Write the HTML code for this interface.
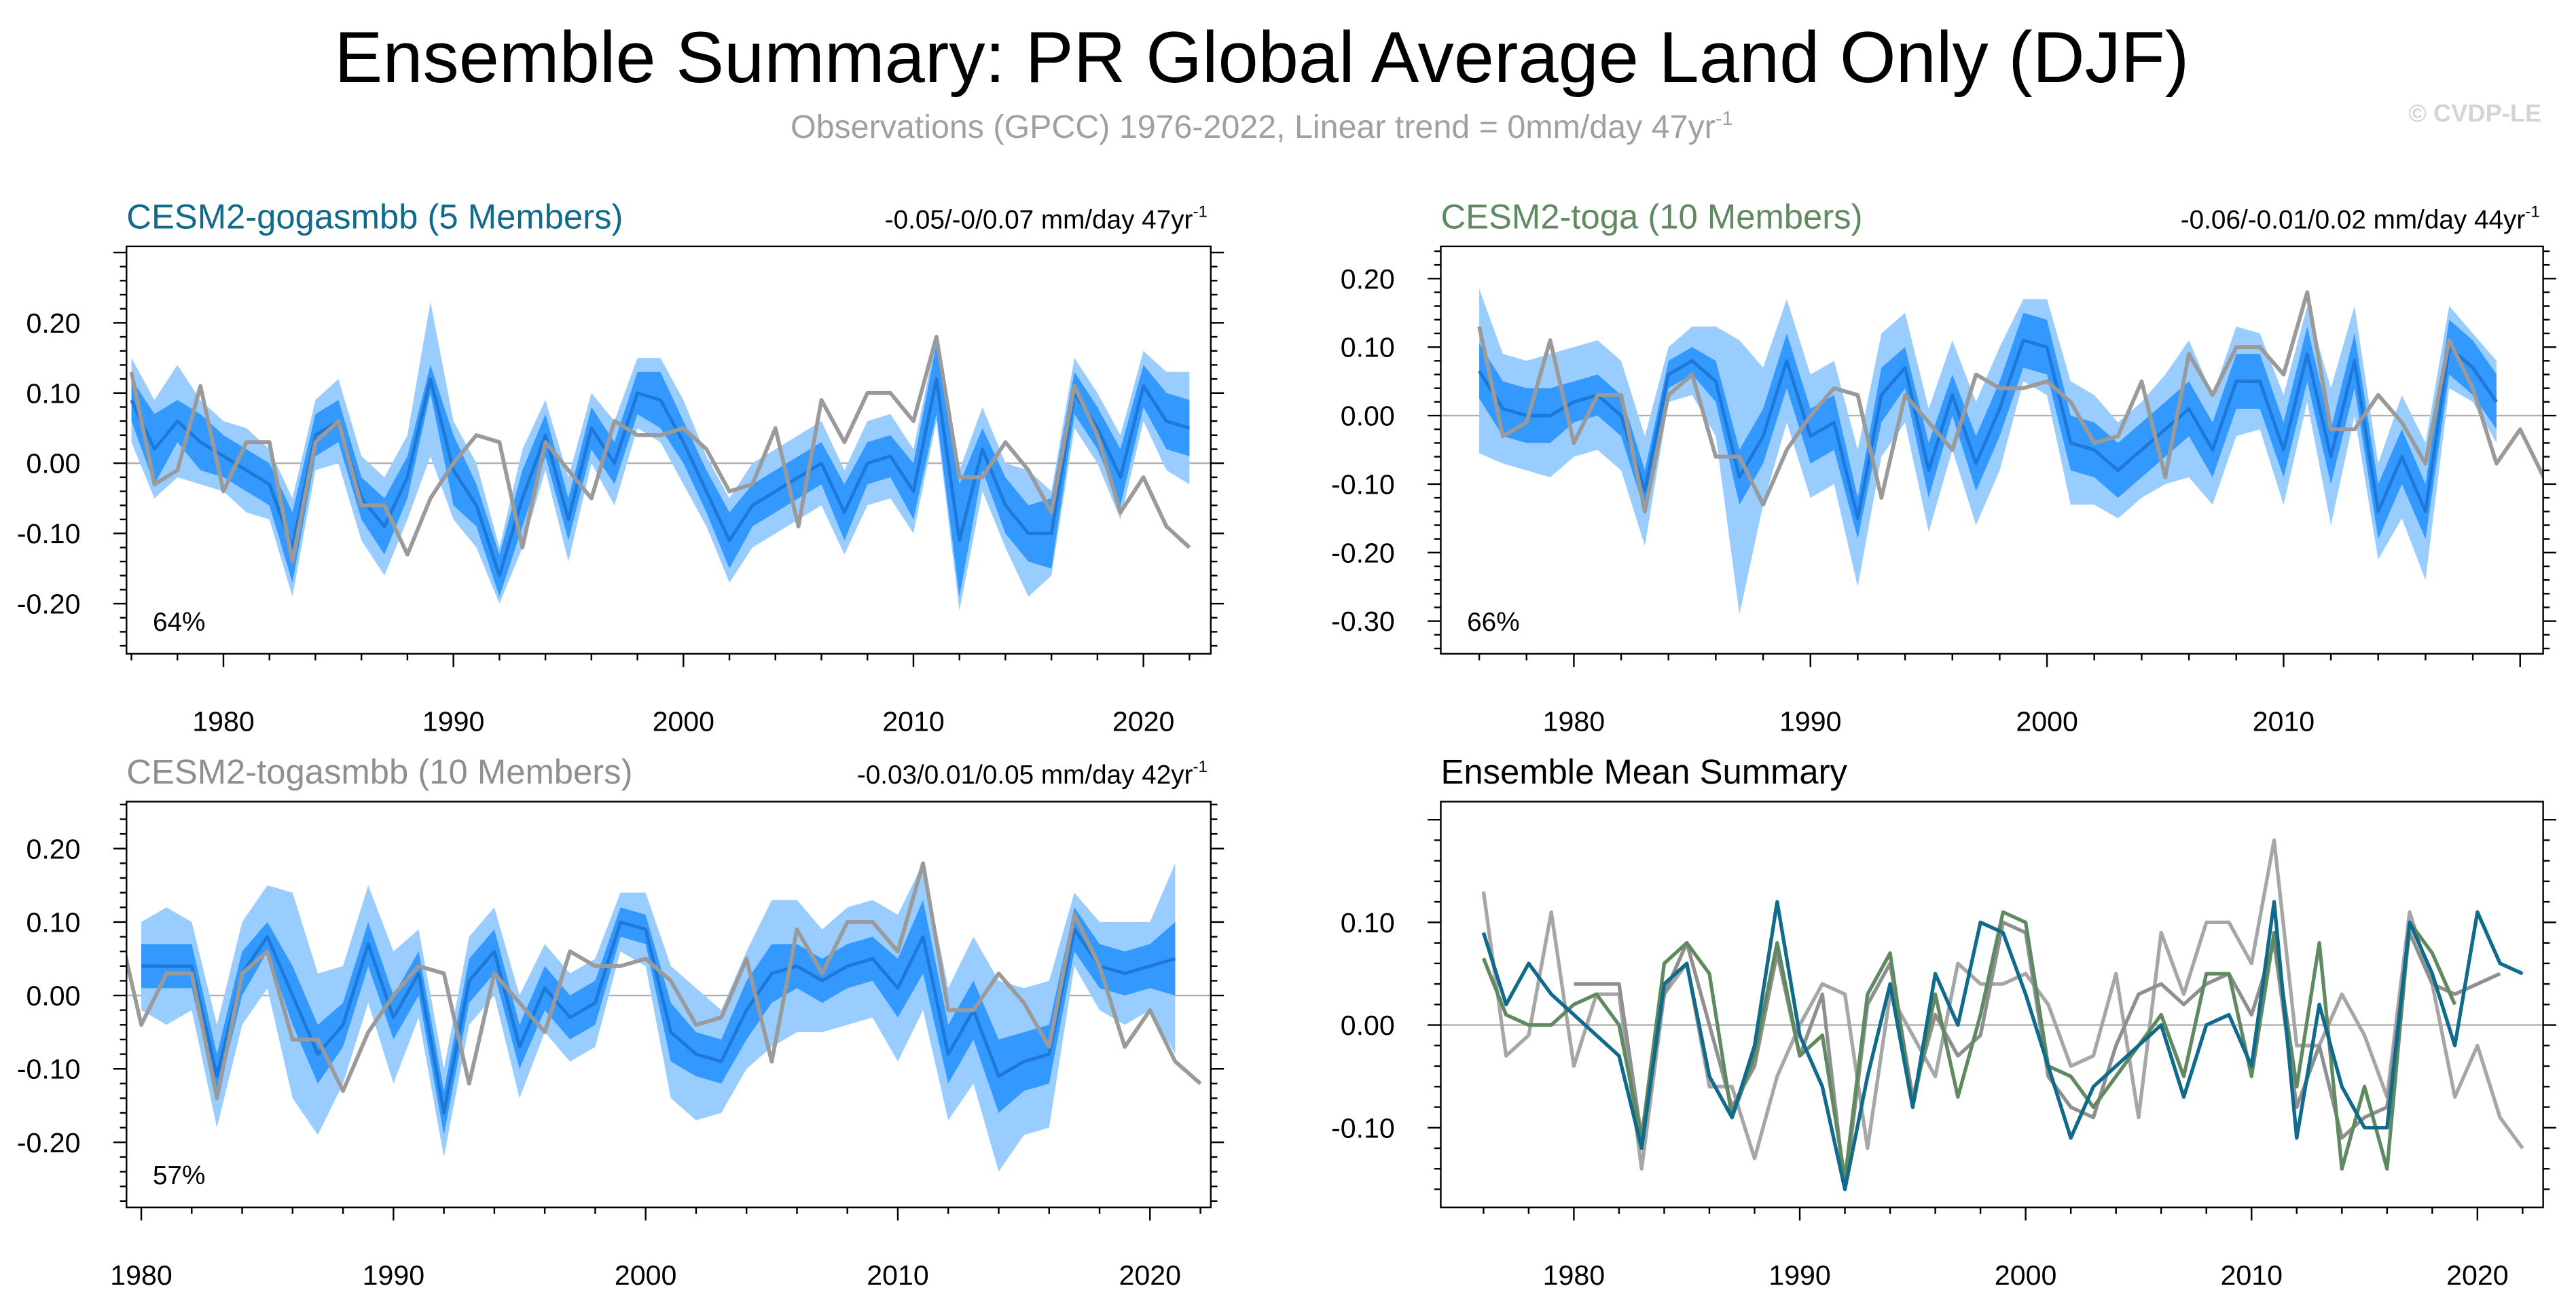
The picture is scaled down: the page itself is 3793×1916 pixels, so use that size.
<!DOCTYPE html>
<html><head><meta charset="utf-8"><style>
html,body{margin:0;padding:0;background:#fff}
svg{display:block;font-family:"Liberation Sans",sans-serif}
</style></head><body>
<svg id="chart" width="3793" height="1916" viewBox="0 0 1568 792" preserveAspectRatio="none" xmlns="http://www.w3.org/2000/svg">
<rect width="1568" height="792" fill="#fff"/>
<text x="768" y="50" text-anchor="middle" font-size="44">Ensemble Summary: PR Global Average Land Only (DJF)</text>
<text x="768" y="84" text-anchor="middle" font-size="20" fill="#a0a0a0">Observations (GPCC) 1976-2022, Linear trend = 0mm/day 47yr<tspan dy="-8" font-size="12">-1</tspan></text>
<text x="1547" y="74" text-anchor="end" font-size="15" font-weight="bold" fill="#d4d4d4">© CVDP-LE</text>
<g id="plots"></g>
</svg>
<script>
const obsYears0 = 1976;
const obsVals = [0.13,-0.03,-0.01,0.11,-0.04,0.03,0.03,-0.14,0.03,0.06,-0.06,-0.06,-0.13,-0.05,0.00,0.04,0.03,-0.12,0.03,-0.01,-0.05,0.06,0.04,0.04,0.05,0.02,-0.04,-0.03,0.05,-0.09,0.09,0.03,0.10,0.10,0.06,0.18,-0.02,-0.02,0.03,-0.01,-0.07,0.11,0.04,-0.07,-0.02,-0.09,-0.12];
const gogaStart = 1976;
const gogaMean = [0.09,0.02,0.06,0.03,0.01,-0.01,-0.03,-0.12,0.04,0.06,-0.05,-0.09,-0.02,0.12,-0.01,-0.06,-0.16,-0.05,0.04,-0.08,0.05,0.00,0.10,0.09,0.03,-0.04,-0.11,-0.06,-0.04,-0.02,0.00,-0.07,0.00,0.01,-0.04,0.12,-0.11,0.02,-0.06,-0.10,-0.10,0.10,0.05,-0.02,0.11,0.06,0.05];
const gogaInner = [0.03,0.05,0.03,0.04,0.03,0.03,0.03,0.05,0.03,0.03,0.03,0.04,0.03,0.02,0.05,0.03,0.03,0.04,0.03,0.03,0.03,0.03,0.03,0.04,0.03,0.03,0.04,0.03,0.03,0.03,0.03,0.04,0.03,0.03,0.04,0.05,0.08,0.03,0.04,0.04,0.05,0.03,0.03,0.04,0.03,0.04,0.04];
const gogaOuter = [0.06,0.07,0.08,0.06,0.05,0.06,0.05,0.07,0.05,0.06,0.06,0.07,0.06,0.11,0.07,0.06,0.04,0.07,0.05,0.06,0.05,0.06,0.05,0.06,0.06,0.05,0.06,0.06,0.06,0.06,0.06,0.06,0.06,0.06,0.06,0.06,0.10,0.06,0.06,0.09,0.06,0.05,0.05,0.06,0.05,0.07,0.08];
const togaStart = 1976;
const togaMean = [0.065,0.01,0.00,0.00,0.02,0.03,0.00,-0.11,0.06,0.08,0.05,-0.09,-0.03,0.08,-0.03,-0.01,-0.15,0.03,0.07,-0.08,0.03,-0.07,0.01,0.11,0.10,-0.04,-0.05,-0.08,-0.05,-0.02,0.01,-0.05,0.05,0.05,-0.05,0.09,-0.06,0.08,-0.14,-0.06,-0.14,0.10,0.07,0.02];
const togaInner = [0.04,0.04,0.04,0.04,0.03,0.03,0.03,0.03,0.02,0.02,0.03,0.04,0.04,0.04,0.04,0.04,0.03,0.04,0.03,0.04,0.03,0.04,0.04,0.04,0.04,0.04,0.04,0.04,0.04,0.04,0.04,0.04,0.04,0.04,0.04,0.04,0.04,0.04,0.04,0.04,0.04,0.04,0.04,0.04];
const togaOuter = [0.12,0.08,0.08,0.09,0.08,0.08,0.08,0.08,0.04,0.05,0.08,0.20,0.10,0.09,0.09,0.09,0.10,0.09,0.08,0.09,0.08,0.09,0.09,0.06,0.07,0.09,0.08,0.07,0.07,0.08,0.10,0.08,0.08,0.07,0.08,0.07,0.10,0.08,0.07,0.09,0.10,0.06,0.05,0.06];
const togasStart = 1980;
const togasMean = [0.04,0.04,0.04,-0.11,0.03,0.08,0.00,-0.08,-0.04,0.07,-0.03,0.03,-0.16,0.02,0.06,-0.07,0.01,-0.03,-0.01,0.10,0.09,-0.05,-0.08,-0.09,-0.02,0.03,0.04,0.02,0.04,0.05,0.01,0.08,-0.08,-0.02,-0.11,-0.09,-0.08,0.09,0.04,0.03,0.04,0.05];
const togasInner = [0.03,0.03,0.03,0.03,0.03,0.02,0.04,0.04,0.03,0.03,0.03,0.03,0.03,0.03,0.03,0.03,0.03,0.03,0.03,0.02,0.02,0.04,0.03,0.03,0.04,0.04,0.03,0.03,0.03,0.03,0.04,0.05,0.04,0.04,0.05,0.04,0.04,0.03,0.03,0.03,0.03,0.05];
const togasOuter = [0.06,0.08,0.06,0.07,0.07,0.07,0.14,0.11,0.08,0.08,0.09,0.06,0.06,0.06,0.06,0.07,0.06,0.06,0.06,0.04,0.05,0.09,0.09,0.07,0.08,0.10,0.09,0.07,0.08,0.08,0.10,0.10,0.09,0.10,0.13,0.10,0.10,0.05,0.06,0.07,0.06,0.13];
const yTicks1 = [-0.20,-0.10,0.00,0.10,0.20];
const yTicks2 = [-0.30,-0.20,-0.10,0.00,0.10,0.20];
const yTicks4 = [-0.10,0.00,0.10];
const xTicks = [1980,1990,2000,2010,2020];
const xTicksToga = [1980,1990,2000,2010];

const NS = "http://www.w3.org/2000/svg";
const root = document.getElementById('plots');
function mk(tag, attrs, parent){const e=document.createElementNS(NS,tag);for(const k in attrs)e.setAttribute(k,attrs[k]);(parent||root).appendChild(e);return e;}

const TEAL="#0f6a8c", GREEN="#5f8a5f", GRAY="#8f8f8f", OBS="#9a9a9a";

function panel(cfg){
  const g = mk('g',{});
  
  
  const {L,R,T,B} = cfg;
  const xs = y => cfg.x0 + (y - cfg.y0yr) * cfg.pxYr;
  const ys = v => cfg.zeroY - v * cfg.pxU;
  const cid = 'clip-' + cfg.name;
  const cp = mk('clipPath',{id:cid},g); mk('rect',{x:L,y:T,width:R-L,height:B-T},cp);
  const pg = mk('g',{'clip-path':'url(#'+cid+')'},g);
  function band(start, mean, w, color, nm){
    let up=[],dn=[];
    mean.forEach((m,i)=>{up.push(xs(start+i)+','+ys(m+w[i]));dn.unshift(xs(start+i)+','+ys(m-w[i]));});
    const p = mk('polygon',{points:up.concat(dn).join(' '),fill:color},pg);
    
    
  }
  function line(start, vals, color, width, nm){
    const pts = vals.map((v,i)=>xs(start+i)+','+ys(v)).join(' ');
    const p = mk('polyline',{points:pts,fill:'none',stroke:color,'stroke-width':width,'stroke-linejoin':'round'},pg);
    
    
  }
  mk('line',{x1:L,x2:R,y1:ys(0),y2:ys(0),stroke:'#b0b0b0','stroke-width':1},pg);
  if(cfg.band){
    band(cfg.band.start, cfg.band.mean, cfg.band.outer, '#99ccff', 'ensemble-range-band');
    band(cfg.band.start, cfg.band.mean, cfg.band.inner, '#3399ff', 'interquartile-band');
    line(cfg.band.start, cfg.band.mean, '#1e78d8', 2, 'ensemble-mean-line');
    line(obsYears0, obsVals, OBS, 2.4, 'observations-line');
  }
  if(cfg.lines){
    line(obsYears0, obsVals, '#a6a6a6', 2.2, 'observations-line');
    line(togasStart, togasMean, GRAY, 2.2, 'togasmbb-mean-line');
    line(togaStart, togaMean, GREEN, 2.2, 'toga-mean-line');
    line(gogaStart, gogaMean, TEAL, 2.2, 'gogasmbb-mean-line');
  }
  const fr = mk('rect',{x:L,y:T,width:R-L,height:B-T,fill:'none',stroke:'#000','stroke-width':1},g);
  
  
  const vTop=(cfg.zeroY-T)/cfg.pxU, vBot=(cfg.zeroY-B)/cfg.pxU;
  for(let k=Math.ceil(vBot*50);k<=Math.floor(vTop*50);k++){
    const v=k/50, y=ys(v), major=(k%5===0);
    const len=major?8:4;
    mk('line',{x1:L-len,x2:L,y1:y,y2:y,stroke:'#000','stroke-width':1},g);
    mk('line',{x1:R,x2:R+len,y1:y,y2:y,stroke:'#000','stroke-width':1},g);
  }
  cfg.yt.forEach(v=>{
    const t=mk('text',{x:L-28,y:ys(v)+6,'text-anchor':'end','font-size':17},g);
    t.textContent=v.toFixed(2);
    
    
  });
  for(let yr=1970; yr<=2030; yr+=2){
    const x=xs(yr); if(x<L-0.5||x>R+0.5) continue;
    const major=(yr%10===0);
    mk('line',{x1:x,x2:x,y1:B,y2:B+(major?8:4),stroke:'#000','stroke-width':1},g);
  }
  cfg.xt.forEach(yr=>{
    const x=xs(yr); if(x<L-1||x>R+1) return;
    const t=mk('text',{x:x,y:B+47,'text-anchor':'middle','font-size':17},g);
    t.textContent=yr;
    
    
  });
  const tt=mk('text',{x:L,y:T-11,'font-size':21,fill:cfg.titleColor},g);
  tt.textContent=cfg.title;
  
  
  if(cfg.trend){
    const tr=mk('text',{x:R-2,y:T-11,'text-anchor':'end','font-size':16},g);
    tr.innerHTML=cfg.trend+'<tspan dy="-7" font-size="10">-1</tspan>';
    
    
  }
  if(cfg.pct){
    const pc=mk('text',{x:L+16,y:B-14,'font-size':16},g);
    pc.textContent=cfg.pct;
    
    
  }
}

panel({name:'gogasmbb-panel',L:77,R:737,T:150,B:398,x0:136,y0yr:1980,pxYr:14,zeroY:282,pxU:427.5,yt:yTicks1,xt:xTicks,
  band:{start:gogaStart,mean:gogaMean,inner:gogaInner,outer:gogaOuter},
  title:'CESM2-gogasmbb (5 Members)',titleColor:TEAL,trend:'-0.05/-0/0.07 mm/day 47yr',pct:'64%'});
panel({name:'toga-panel',L:877,R:1548,T:150,B:398,x0:958,y0yr:1980,pxYr:14.4,zeroY:253,pxU:417,yt:yTicks2,xt:xTicksToga,
  band:{start:togaStart,mean:togaMean,inner:togaInner,outer:togaOuter},
  title:'CESM2-toga (10 Members)',titleColor:GREEN,trend:'-0.06/-0.01/0.02 mm/day 44yr',pct:'66%'});
panel({name:'togasmbb-panel',L:77,R:737,T:488,B:735,x0:86,y0yr:1980,pxYr:15.35,zeroY:606,pxU:447,yt:yTicks1,xt:xTicks,
  band:{start:togasStart,mean:togasMean,inner:togasInner,outer:togasOuter},
  title:'CESM2-togasmbb (10 Members)',titleColor:GRAY,trend:'-0.03/0.01/0.05 mm/day 42yr',pct:'57%'});
panel({name:'ensemble-mean-summary-panel',L:877,R:1548,T:488,B:735,x0:958,y0yr:1980,pxYr:13.75,zeroY:624,pxU:625,yt:yTicks4,xt:xTicks,
  lines:true,title:'Ensemble Mean Summary',titleColor:'#000'});
</script>
</body></html>
